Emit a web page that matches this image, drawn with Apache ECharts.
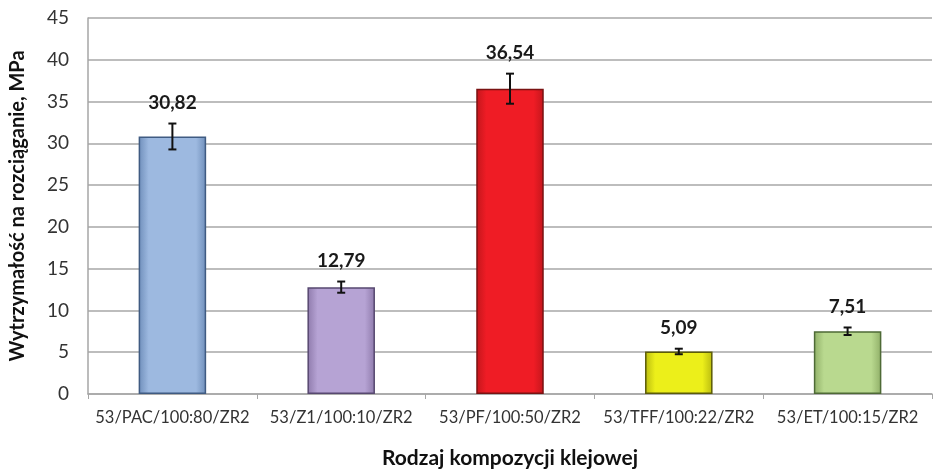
<!DOCTYPE html>
<html>
<head>
<meta charset="utf-8">
<script src="https://cdn.jsdelivr.net/npm/echarts@6/dist/echarts.min.js"></script>
<style>html,body{margin:0;padding:0;background:#fff}#c{width:934px;height:474px}</style>
</head>
<body>
<div id="c"></div>
<script>
const categories = ['53/PAC/100:80/ZR2', '53/Z1/100:10/ZR2', '53/PF/100:50/ZR2', '53/TFF/100:22/ZR2', '53/ET/100:15/ZR2'];
const values = [30.82, 12.79, 36.54, 5.09, 7.51];
const errors = [1.55, 0.67, 1.8, 0.33, 0.45];
const yTicks = [0, 5, 10, 15, 20, 25, 30, 35, 40, 45];

const palette = [
  {c: '#9DB9E0', e: '#6F8EBA', b: '#3F5B82'},
  {c: '#B6A3D4', e: '#8E7AAB', b: '#574870'},
  {c: '#EF1C25', e: '#C3161C', b: '#7A1212'},
  {c: '#ECEF1A', e: '#B9BB10', b: '#5C5C08'},
  {c: '#B9D98F', e: '#90AF68', b: '#4E6A36'}
];
const fmt = v => v.toFixed(2).replace('.', ',');
const font = 'Lato, "Open Sans", sans-serif';

const barData = values.map((v, i) => ({
  value: v,
  itemStyle: {
    color: {type: 'linear', x: 0, y: 0, x2: 1, y2: 0, colorStops: [
      {offset: 0, color: palette[i].e}, {offset: 0.15, color: palette[i].c},
      {offset: 0.85, color: palette[i].c}, {offset: 1, color: palette[i].e}]},
    borderColor: palette[i].b, borderWidth: 1.5
  }
}));
const errData = values.map((v, i) => [i, v - errors[i], v + errors[i], v]);

const chart = echarts.init(document.getElementById('c'));
chart.setOption({
  animation: false,
  grid: {left: 80, right: 2, top: 18, bottom: 75},
  xAxis: {
    type: 'category', data: categories,
    axisLine: {lineStyle: {color: '#A6A6A6', width: 1.5}},
    axisTick: {show: true, length: 5, lineStyle: {color: '#A6A6A6'}},
    axisLabel: {color: '#333', fontSize: 16.5, fontFamily: font, margin: 15, interval: 0},
    name: 'Rodzaj kompozycji klejowej', nameLocation: 'middle', nameGap: 54,
    nameTextStyle: {color: '#111', fontSize: 21, fontWeight: 'bold', fontFamily: font}
  },
  yAxis: {
    type: 'value', min: 0, max: 45, interval: 5,
    axisLine: {show: true, lineStyle: {color: '#A6A6A6', width: 1.5}},
    axisTick: {show: false},
    splitLine: {lineStyle: {color: '#BDBDBD', width: 1.8}},
    axisLabel: {color: '#333', fontSize: 19, fontFamily: font, margin: 19,
      formatter: v => yTicks.includes(v) ? String(v) : ''},
    name: 'Wytrzymałość na rozciąganie, MPa', nameLocation: 'middle', nameGap: 60,
    nameTextStyle: {color: '#111', fontSize: 20, fontWeight: 'bold', fontFamily: font}
  },
  series: [
    {type: 'bar', data: barData, barWidth: '40%'},
    {
      type: 'custom', data: errData, z: 10,
      renderItem: (params, api) => {
        const lo = api.coord([api.value(0), api.value(1)]);
        const hi = api.coord([api.value(0), api.value(2)]);
        const x = lo[0], cap = 4;
        const st = {stroke: '#111', lineWidth: 2};
        return {type: 'group', children: [
          {type: 'line', shape: {x1: x, y1: lo[1], x2: x, y2: hi[1]}, style: st},
          {type: 'line', shape: {x1: x - cap, y1: lo[1], x2: x + cap, y2: lo[1]}, style: st},
          {type: 'line', shape: {x1: x - cap, y1: hi[1], x2: x + cap, y2: hi[1]}, style: st},
          {type: 'text', x: x, y: hi[1] - 21, style: {
            text: fmt(api.value(3)), fill: '#1a1a1a', font: 'bold 19px ' + font,
            align: 'center', verticalAlign: 'middle'}}
        ]};
      }
    }
  ]
});
</script>
</body>
</html>
